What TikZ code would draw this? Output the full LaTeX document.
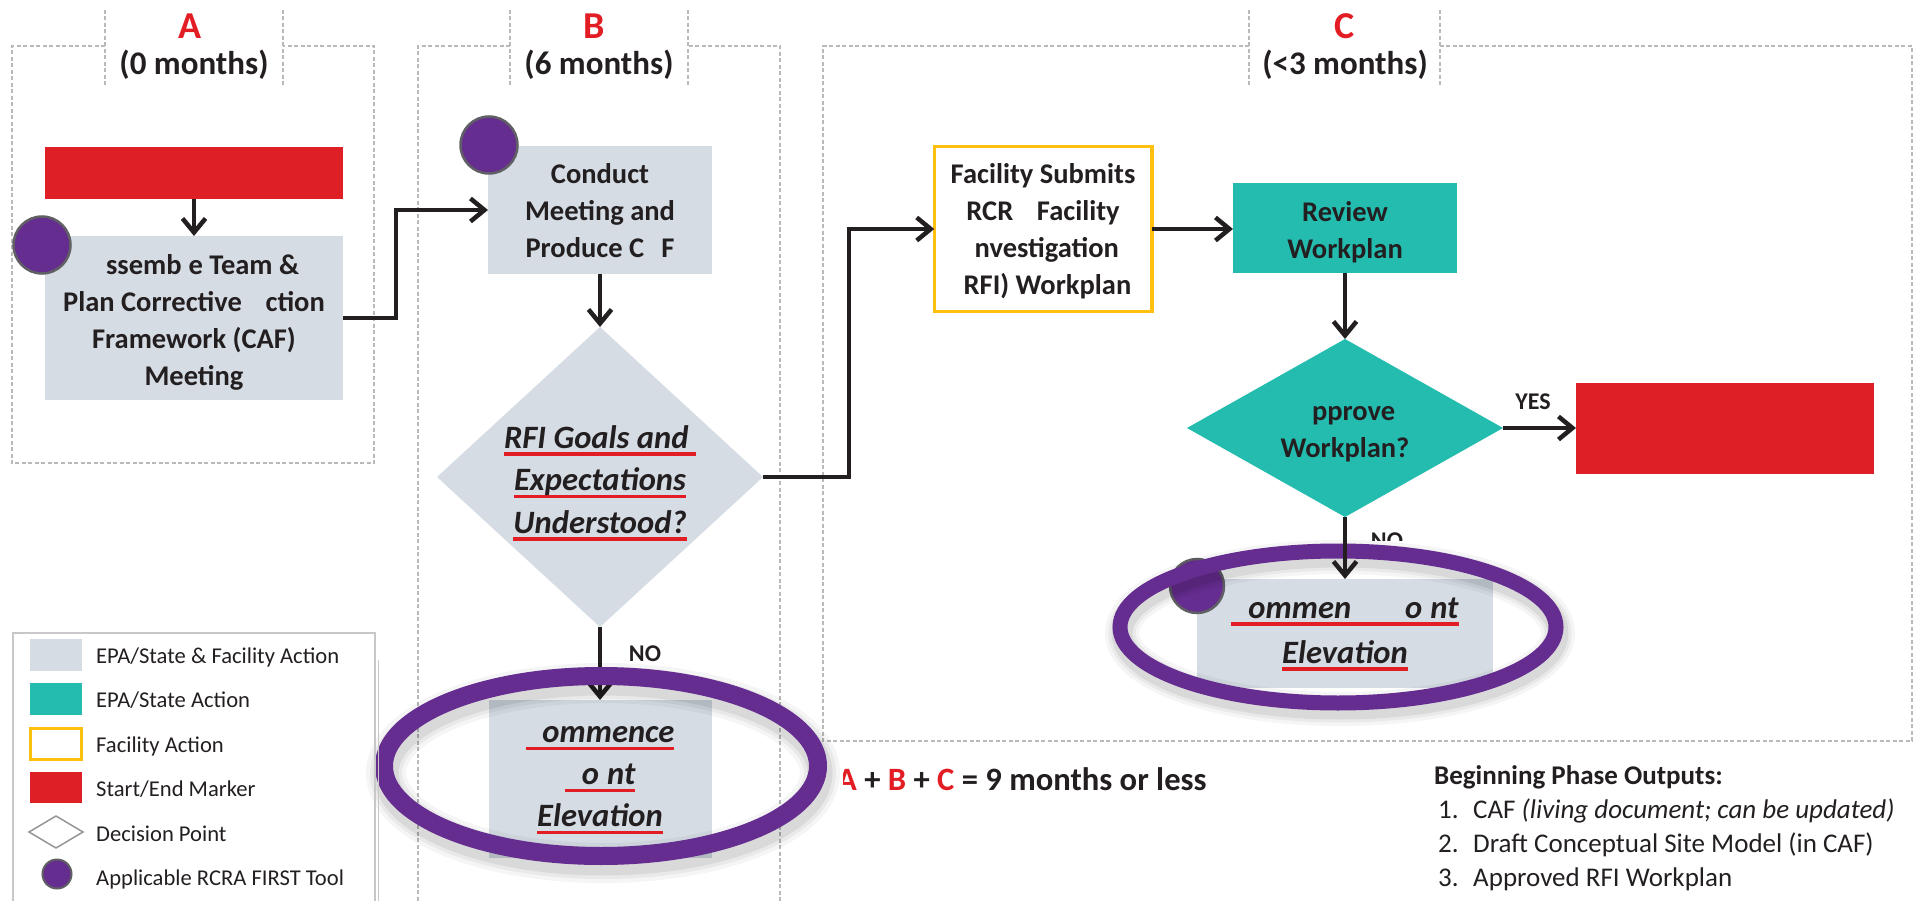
\documentclass[tikz,border=0pt]{standalone}
\usepackage{fontspec}
\setmainfont{Carlito}
\usetikzlibrary{arrows.meta,shapes.geometric}

\definecolor{actgray}{RGB}{213,220,228}
\definecolor{epateal}{RGB}{35,188,175}
\definecolor{markred}{RGB}{222,31,38}
\definecolor{facorange}{RGB}{255,191,15}
\definecolor{toolpurple}{RGB}{102,45,145}
\definecolor{ink}{RGB}{35,31,32}
\definecolor{framegray}{RGB}{185,185,185}
\definecolor{legendgray}{RGB}{200,200,200}
\definecolor{diagray}{RGB}{150,150,150}
\definecolor{rimgray}{RGB}{95,95,100}
\definecolor{headred}{RGB}{226,30,36}
\definecolor{ulred}{RGB}{226,30,36}

% red underline under a word group
\newcommand{\redul}[1]{\setbox0=\hbox{#1}\leavevmode\rlap{\color{ulred}\rule[-7.5pt]{\wd0}{3.5pt}}\box0}

\tikzset{
  panel/.style={draw=framegray, line width=1.3pt, dash pattern=on 4pt off 2.5pt},
  tile/.style={rectangle, inner sep=0pt, outer sep=0pt},
  actbox/.style={tile, fill=actgray},
  epabox/.style={tile, fill=epateal},
  facbox/.style={tile, draw=facorange, line width=3.5pt, fill=white},
  marker/.style={tile, fill=markred},
  decide/.style={diamond, inner sep=0pt, outer sep=0pt},
  tooldot/.style={circle, fill=toolpurple, draw=rimgray, line width=2.5pt, inner sep=0pt, outer sep=0pt, minimum size=#1},
  flowtxt/.style={text=ink, font=\fontsize{28.5}{37}\selectfont\bfseries, align=center, inner sep=0pt},
  keytxt/.style={text=ink, font=\fontsize{32.6}{42.5}\selectfont\bfseries\itshape, align=center, inner sep=0pt},
  flowlbl/.style={text=ink, font=\fontsize{24}{28}\selectfont\bfseries, inner sep=0pt},
  headletter/.style={text=headred, font=\fontsize{38}{42}\selectfont\bfseries, inner sep=0pt},
  headspan/.style={text=ink, font=\fontsize{33}{38}\selectfont\bfseries, inner sep=0pt},
  legtxt/.style={text=ink, font=\fontsize{22.6}{27}\selectfont, anchor=base west, inner sep=0pt},
  outtxt/.style={text=ink, font=\fontsize{27}{32}\selectfont, anchor=base west, inner sep=0pt},
  legframe/.style={draw=legendgray, line width=2pt},
  flow/.style={draw=ink, line width=4.5pt, -{Straight Barb[length=14pt,width=23pt]}},
  ring/.style={draw=toolpurple},
}

\begin{document}
\begin{tikzpicture}[x=1pt, y=-1pt]
\useasboundingbox (0,0) rectangle (1919,901);

% ---- phase panels
\draw[panel] (105,46) -- (12,46) -- (12,463) -- (374,463) -- (374,46) -- (283,46);
\draw[panel] (105,10) -- (105,86);
\draw[panel] (283,10) -- (283,86);
\draw[panel] (510,46) -- (418,46) -- (418,901);
\draw[panel] (780,901) -- (780,46) -- (688,46);
\draw[panel] (510,10) -- (510,86);
\draw[panel] (688,10) -- (688,86);
\draw[panel] (1249,46) -- (823,46) -- (823,741) -- (1912,741) -- (1912,46) -- (1440,46);
\draw[panel] (1249,10) -- (1249,86);
\draw[panel] (1440,10) -- (1440,86);

% ---- phase headings
\node[headletter] (headA) at (190,26) {A};
\node[headspan] (spanA) at (194,65) {(0 months)};
\node[headletter] (headB) at (594,26) {B};
\node[headspan] (spanB) at (599,65) {(6 months)};
\node[headletter] (headC) at (1345,26) {C};
\node[headspan] (spanC) at (1345,65) {(<3 months)};

% ---- phase A
\node[marker, minimum width=298, minimum height=52] (start) at (194,173) {};
\node[actbox, minimum width=298, minimum height=164] (assemble) at (194,318) {};
\node[flowtxt] (assemble-t) at (194,322) {\phantom{A}ssemb\phantom{l}e Team \&\\Plan Corrective \phantom{A}ction\\Framework (CAF)\\Meeting};
\node[tooldot=57] (toolA) at (42,245) {};

% ---- phase B
\node[actbox, minimum width=224, minimum height=128] (conduct) at (600,210) {};
\node[flowtxt] (conduct-t) at (600,211) {Conduct\\Meeting and\\Produce C\phantom{A}F};
\node[tooldot=57] (toolB) at (489,145) {};

\node[decide, fill=actgray, minimum width=326, minimum height=300] (goals) at (600,477) {};
\node[keytxt] (goals-t) at (600,483) {\redul{RFI Goals and\ }\\\redul{Expectations}\\\redul{Understood?}};

\node[actbox, minimum width=223, minimum height=158] (commenceB) at (600,779) {};
\node[keytxt, font=\fontsize{32.6}{42}\selectfont\bfseries\itshape] (commenceB-t) at (600,778) {\redul{\phantom{C}ommence}\\\redul{\phantom{P}o\phantom{i}nt}\\\redul{Elevation}};

% ---- phase C
\node[facbox, minimum width=217.5, minimum height=164.5] (submit) at (1043,229) {};
\node[flowtxt] (submit-t) at (1043,231) {Facility Submits\\RCR\phantom{A} Facility\\\phantom{I}nvestigation\\\phantom{(}RFI) Workplan};

\node[epabox, minimum width=224, minimum height=90] (review) at (1345,228) {};
\node[flowtxt] (review-t) at (1345,232) {Review\\Workplan};

\node[decide, fill=epateal, minimum width=316, minimum height=178] (approve) at (1345,428) {};
\node[flowtxt] (approve-t) at (1345,432) {\phantom{A}pprove\\Workplan?};

\node[marker, minimum width=298, minimum height=91] (finish) at (1725,428.5) {};
\node[flowlbl] (yes) at (1533,402) {YES};

\node[actbox, minimum width=296, minimum height=109] (commenceC) at (1345,633.5) {};
\node[tooldot=54] (toolC) at (1197,586) {};

% ---- connectors
\draw[flow] (start.south) -- (assemble.north);
\draw[flow] (assemble.east) -- ++(53,0) |- (conduct.west);
\draw[flow] (conduct.south) -- (goals.north);
\draw[flow] (goals.east) -- ++(86,0) |- (submit.west);
\draw[flow] (submit.east) -- (submit.east -| review.west);
\draw[flow] (review.south) -- (approve.north);
\draw[flow] (approve.east) -- (approve.east -| finish.west);
\draw[flow] (goals.south) -- (commenceB.north);
\node[flowlbl] (noB) at (645,654) {NO};

% ---- tool ring around the first elevation box
\foreach \w/\o in {40/0.04, 32/0.05, 25/0.07}
  \draw[black, opacity=\o, line width=\w pt] (603,773) ellipse [x radius=217pt, y radius=90pt];
\draw[ring, line width=18pt] (601,766) ellipse [x radius=217pt, y radius=90pt];

% ---- tool ring around the second elevation box
\foreach \w/\o in {34/0.04, 27/0.05, 21/0.07}
  \draw[black, opacity=\o, line width=\w pt] (1340,633) ellipse [x radius=218pt, y radius=76pt];
\draw[ring, line width=15pt] (1338,627) ellipse [x radius=218pt, y radius=76pt];
\node[keytxt, font=\fontsize{32.6}{45}\selectfont\bfseries\itshape] (commenceC-t) at (1345,633) {\redul{\phantom{C}ommen\phantom{ce P}o\phantom{i}nt}\\\redul{Elevation}};
\draw[flow] (approve.south) -- (commenceC.north);
\begin{scope}
  \clip (1360,520) rectangle (1420,540);
  \node[flowlbl] (noC) at (1387,541) {NO};
\end{scope}

% ---- duration total
\begin{scope}
  \clip (843,740) rectangle (1300,830);
  \node[anchor=base west, inner sep=0pt, text=ink, font=\fontsize{32.6}{38}\selectfont\bfseries] (total) at (837,790)
    {\textcolor{headred}{A} + \textcolor{headred}{B} + \textcolor{headred}{C} = 9 months or less};
\end{scope}

% ---- legend
\draw[legframe] (13,901) -- (13,633) -- (375,633) -- (375,901);
\draw[legframe, line width=1.2pt] (378.5,660) -- (378.5,901);
\node[actbox, minimum width=52, minimum height=32] (keyjoint) at (56,655) {};
\node[legtxt] (keyjoint-t) at (96,663) {EPA/State \& Facility Action};
\node[epabox, minimum width=52, minimum height=32] (keyepa) at (56,699) {};
\node[legtxt] (keyepa-t) at (96,707) {EPA/State Action};
\node[facbox, line width=3pt, minimum width=51, minimum height=31] (keyfac) at (56,744) {};
\node[legtxt] (keyfac-t) at (96,752) {Facility Action};
\node[marker, minimum width=52, minimum height=31] (keymark) at (56,787.5) {};
\node[legtxt] (keymark-t) at (96,796) {Start/End Marker};
\node[decide, draw=diagray, line width=1.5pt, fill=white, minimum width=54, minimum height=32] (keydec) at (56,832) {};
\node[legtxt] (keydec-t) at (96,841) {Decision Point};
\node[tooldot=29, line width=2pt] (keytool) at (57,874) {};
\node[legtxt] (keytool-t) at (96,885) {Applicable RCRA FIRST Tool};

% ---- outputs
\node[outtxt, font=\fontsize{27}{32}\selectfont\bfseries] (outhead) at (1434,784) {Beginning Phase Outputs:};
\node[outtxt] (out1) at (1438,818) {\makebox[35pt][l]{1.}CAF \textit{(living document; can be updated)}};
\node[outtxt] (out2) at (1438,852) {\makebox[35pt][l]{2.}Draft Conceptual Site Model (in CAF)};
\node[outtxt] (out3) at (1438,886) {\makebox[35pt][l]{3.}Approved RFI Workplan};
\end{tikzpicture}
\end{document}
